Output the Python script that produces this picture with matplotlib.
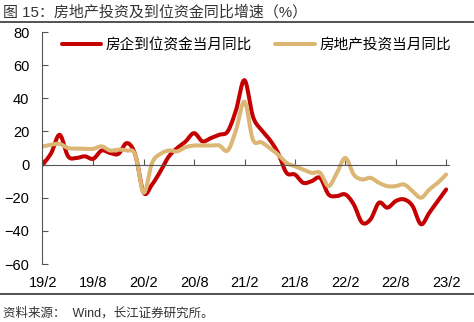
import matplotlib
matplotlib.use("Agg")
import matplotlib.pyplot as plt
import numpy as np

plt.rcParams['font.family'] = ['Liberation Sans', 'Noto Sans CJK SC', 'DejaVu Sans']

# monthly data, 2019/2 .. 2023/2
months = np.arange(49)
funds_yoy = [0, 7, 18, 5, 4, 5, 3.5, 8.5, 7, 6.5, 13, 6,
             -17, -12, -4, 5, 10, 14, 19, 14, 16, 18, 20, 33,
             51, 29, 21, 15, 7, -5, -6, -11, -10, -8, -18, -19,
             -18, -24, -35, -33, -23, -26, -22, -21, -25, -36, -29, -22,
             -15]
invest_yoy = [11, 12, 12.5, 10, 9.7, 9.5, 9.5, 11, 8.5, 9, 8.5, 6,
              -17, 1, 6.5, 8.5, 8, 10.5, 11.5, 11.5, 11.5, 11.5, 8.5, 21,
              38, 15, 13.5, 10, 6, 1, -1, -3, -5, -5, -13, -5,
              4, -6, -9, -8, -11, -13, -13, -12, -16, -20, -15, -11,
              -6]
tick_pos = [0, 6, 12, 18, 24, 30, 36, 42, 48]
tick_labels = ["19/2", "19/8", "20/2", "20/8", "21/2", "21/8", "22/2", "22/8", "23/2"]


def smooth(x, y, n=8):
    # catmull-rom, similar to excel's smoothed line
    x = np.asarray(x, float)
    y = np.asarray(y, float)
    px = np.concatenate([[2 * x[0] - x[1]], x, [2 * x[-1] - x[-2]]])
    py = np.concatenate([[2 * y[0] - y[1]], y, [2 * y[-1] - y[-2]]])
    xs, ys = [], []
    t = np.linspace(0, 1, n, endpoint=False)
    for i in range(1, len(px) - 2):
        for arr, out in ((px, xs), (py, ys)):
            p0, p1, p2, p3 = arr[i - 1], arr[i], arr[i + 1], arr[i + 2]
            out.extend(0.5 * (2 * p1 + (-p0 + p2) * t
                              + (2 * p0 - 5 * p1 + 4 * p2 - p3) * t ** 2
                              + (-p0 + 3 * p1 - 3 * p2 + p3) * t ** 3))
    xs.append(x[-1])
    ys.append(y[-1])
    return np.array(xs), np.array(ys)


fig = plt.figure(figsize=(4.74, 3.22), dpi=100)
ax = fig.add_axes([0.0886, 0.180, 0.858, 0.7206])

red = '#C40000'
tan = '#DBB674'
sx, sy = smooth(months, funds_yoy)
ax.plot(sx, sy, color=red, lw=2.9, solid_capstyle='round', label='房企到位资金当月同比')
sx, sy = smooth(months, invest_yoy)
ax.plot(sx, sy, color=tan, lw=2.9, solid_capstyle='round', label='房地产投资当月同比')

ax.set_ylim(-60, 80)
ax.set_xlim(-0.1, 48.3)
ax.set_yticks(range(-60, 81, 20))
ax.tick_params(axis='y', direction='in', length=4, pad=9, labelsize=10.5, color='#555555')
for s in ['top', 'right']:
    ax.spines[s].set_visible(False)
ax.spines['left'].set_color('#555555')
ax.spines['bottom'].set_position(('data', 0))
ax.spines['bottom'].set_color('#555555')
ax.set_xticks(tick_pos)
ax.tick_params(axis='x', direction='in', length=4, labelbottom=False, color='#555555')
for p, lab in zip(tick_pos, tick_labels):
    ax.text(p, -0.082, lab, transform=ax.get_xaxis_transform(), ha='center', va='center',
            fontsize=10.5)

ax.legend(loc='upper left', bbox_to_anchor=(0.017, 1.03), ncol=2, frameon=False,
          fontsize=10.5, handlelength=2.7, handletextpad=0.3, columnspacing=1.6)

fig.text(0.006, 0.962, '图 15：房地产投资及到位资金同比增速（%）', fontsize=10.8,
         color='#333333', va='center', ha='left')
fig.add_artist(plt.Line2D([0, 1], [0.932, 0.932], transform=fig.transFigure,
                          color='#444444', lw=1.3))
fig.add_artist(plt.Line2D([0, 1], [0.087, 0.087], transform=fig.transFigure,
                          color='#444444', lw=1.3))
fig.text(0.006, 0.028, '资料来源：  Wind，长江证券研究所。', fontsize=9,
         color='#333333', va='center', ha='left')

fig.savefig('out.png', dpi=100)
